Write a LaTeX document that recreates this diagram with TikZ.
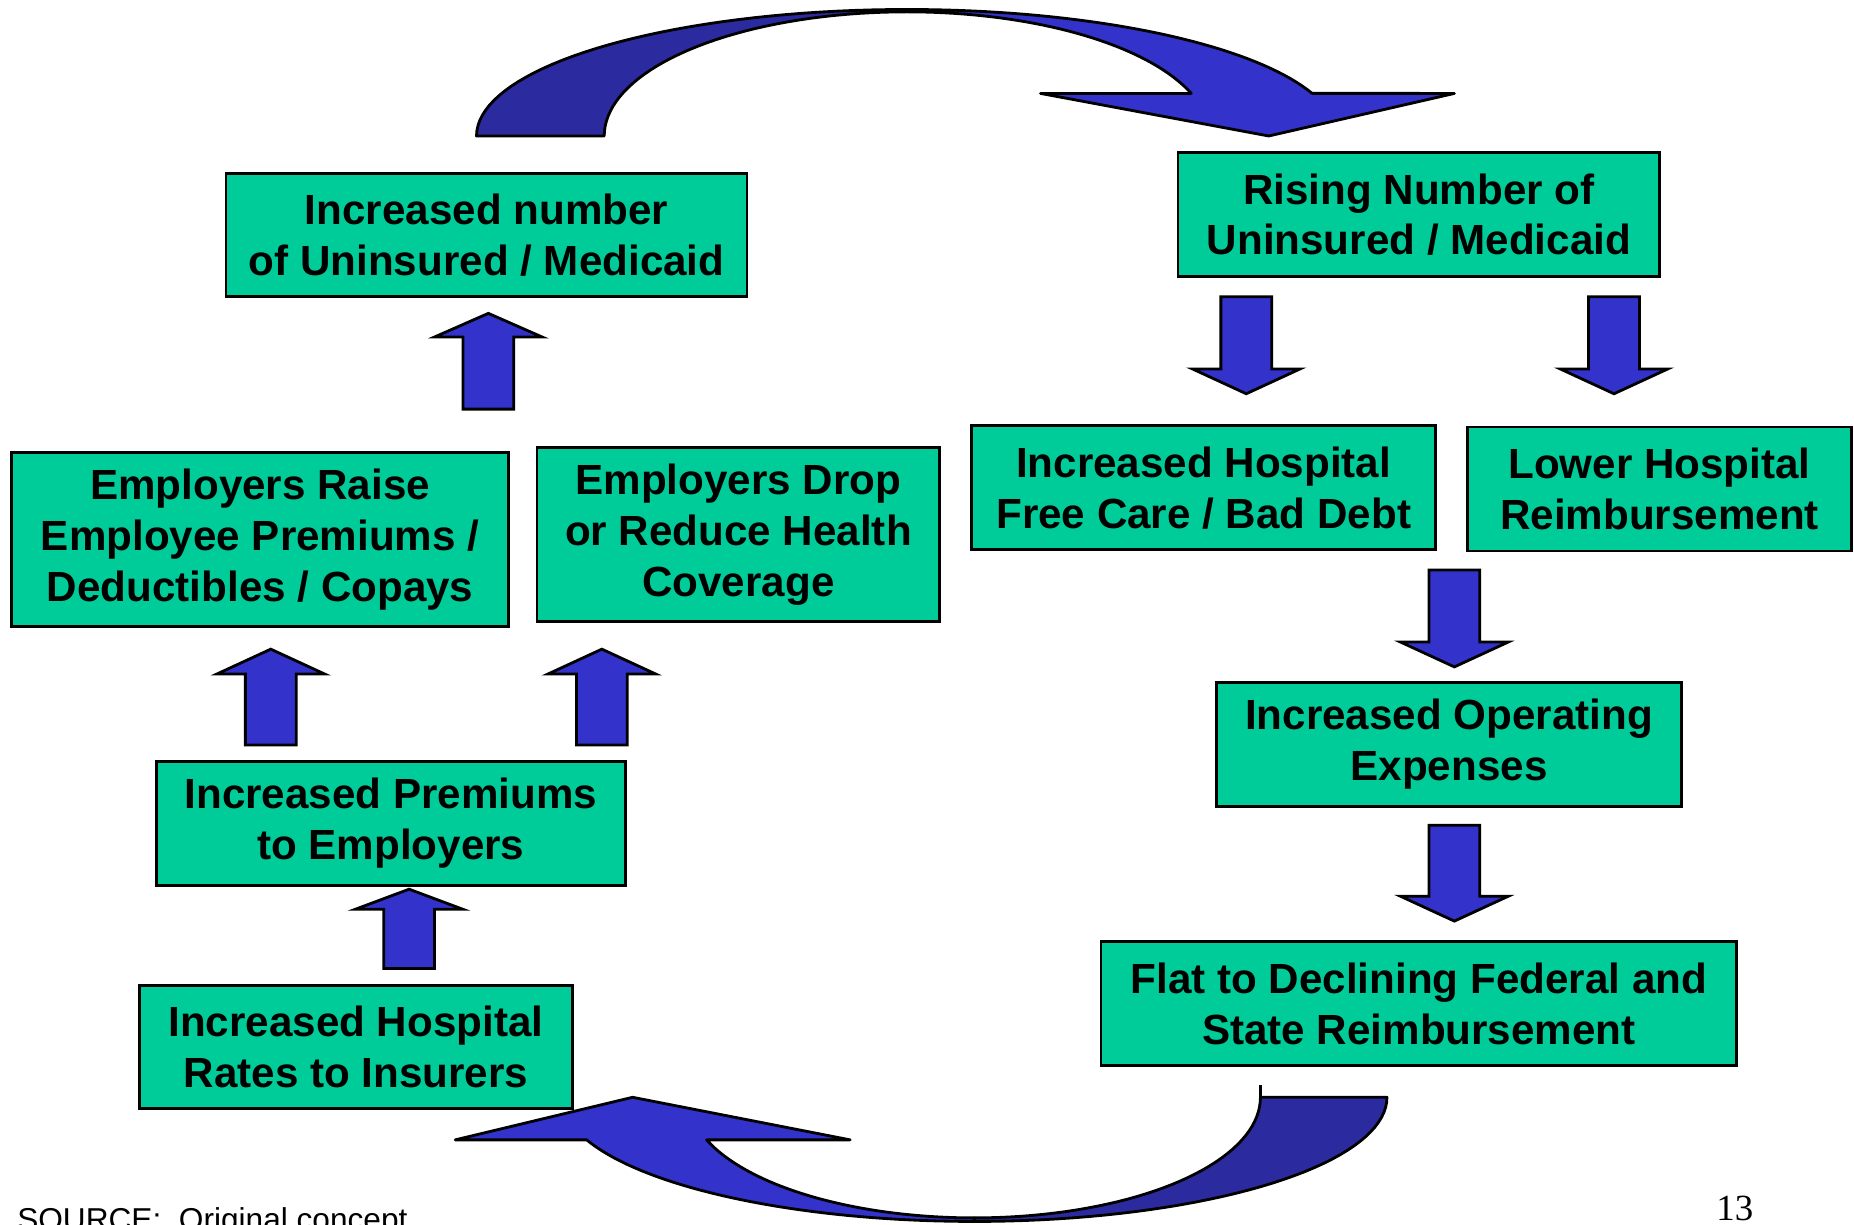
\documentclass[tikz,border=0pt]{standalone}
\usepackage{fontspec}
\setmainfont{Liberation Sans}
\newfontfamily\pagenumfont{Liberation Serif}
\definecolor{boxgreen}{HTML}{00CC99}
\definecolor{arrowblue}{HTML}{3333CC}
\definecolor{arrowdark}{HTML}{2B2B9F}
\tikzset{
	box/.style 2 args={draw,line width=0.8pt,fill=boxgreen,align=center,inner sep=0pt,minimum width=#1cm,minimum height=#2cm,font=\fontsize{12}{14.5}\selectfont\bfseries},
	barrow/.style={draw,line width=0.8pt,fill=arrowblue,line join=miter},
	carrow/.style={draw,line width=0.8pt,fill=#1,line join=round}
}
% block arrow: centre x, start y, head base y, tip y
\newcommand{\blockarrow}[4]{\draw[barrow] (#1-21.5,#2) -- (#1-21.5,#3) -- (#1-45.5,#3) -- (#1,#4) -- (#1+45.5,#3) -- (#1+21.5,#3) -- (#1+21.5,#2) -- cycle;}

\begin{document}
\begin{tikzpicture}[x=0.011824cm,y=-0.011824cm]
						\useasboundingbox (0,0) rectangle (1568,1036);

						% top curved arrow
						\draw[carrow=arrowdark] plot[domain=180:270,samples=40,variable=\t] ({767+364*cos(\t)},{115+107*sin(\t)}) -- plot[domain=270:180,samples=40,variable=\t] ({767+256*cos(\t)},{115+105*sin(\t)}) -- cycle;
						\draw[carrow=arrowblue] plot[domain=270:340.3,samples=40,variable=\t] ({767+364*cos(\t)},{115+107*sin(\t)}) -- (1230,79) -- (1073,115) -- (880,79) -- plot[domain=339.95:270,samples=40,variable=\t] ({767+256*cos(\t)},{115+105*sin(\t)}) -- cycle;

						% bottom curved arrow
						\draw[carrow=arrowdark] plot[domain=0:90,samples=40,variable=\t] ({824+349*cos(\t)},{928+105*sin(\t)}) -- plot[domain=90:0,samples=40,variable=\t] ({824+242*cos(\t)},{928+102*sin(\t)}) -- cycle;
						\draw[carrow=arrowblue] plot[domain=90:159.95,samples=40,variable=\t] ({824+349*cos(\t)},{928+105*sin(\t)}) -- (385,964) -- (535,928) -- (719,964) -- plot[domain=159.33:90,samples=40,variable=\t] ({824+242*cos(\t)},{928+102*sin(\t)}) -- cycle;
						\draw[line width=0.8pt] (1066,928) -- (1066,918);

						\node [box={5.21}{1.23}] (unins) at (411.5,199) {Increased number\\of Uninsured / Medicaid};
						\node [box={4.82}{1.24}] (rising) at (1200,181.5) {Rising Number of\\Uninsured / Medicaid};
						\node [box={4.97}{1.74}] (raise) at (220,456) {Employers Raise\\Employee Premiums /\\Deductibles / Copays};
						\node [box={4.03}{1.74}] (drop) at (624.5,452) {Employers Drop\\or Reduce Health\\Coverage};
						\node [box={4.64}{1.24}] (freecare) at (1018,412.5) {Increased Hospital\\Free Care / Bad Debt};
						\node [box={3.84}{1.24}] (lower) at (1403.5,413.5) {Lower Hospital\\Reimbursement};
						\node [box={4.65}{1.24}] (opex) at (1225.5,629.5) {Increased Operating\\Expenses};
						\node [box={4.69}{1.24}] (premiums) at (330.5,696.5) {Increased Premiums\\to Employers};
						\node [box={6.36}{1.24}] (flat) at (1200,849) {Flat to Declining Federal and\\State Reimbursement};
						\node [box={4.33}{1.23}] (rates) at (301,885.5) {Increased Hospital\\Rates to Insurers};

						\blockarrow{413}{346}{285}{265}
						\blockarrow{229}{630}{570}{549}
						\blockarrow{509}{630}{570}{549}
						\blockarrow{346}{819}{769}{752}
						\blockarrow{1054}{251}{312}{333}
						\blockarrow{1365}{251}{312}{333}
						\blockarrow{1230}{482}{543}{564}
						\blockarrow{1230}{698}{758}{779}

						\node [anchor=base west,inner sep=0pt,font=\fontsize{9}{11}\selectfont] (source) at (14,1041) {SOURCE:\ \ Original concept};
						\node [anchor=base west,inner sep=0pt,font=\pagenumfont\fontsize{10.5}{12}\selectfont] (pagenum) at (1451,1032) {13};
					\end{tikzpicture}
\end{document}
